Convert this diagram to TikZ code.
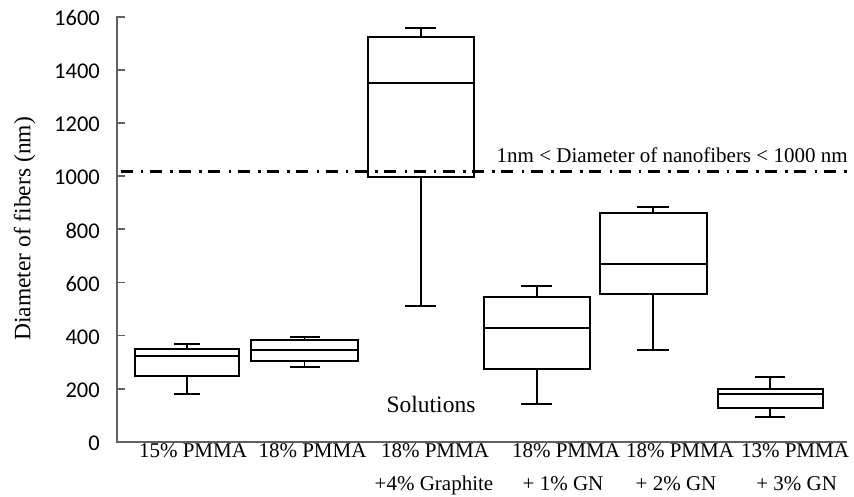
\documentclass[tikz,border=0pt]{standalone}
\usepackage{fontspec}
\setmainfont{Liberation Serif}
\newfontfamily\calib{Carlito}
\begin{document}
\begin{tikzpicture}[x=1pt,y=-1pt,
  boxline/.style={line width=1.9pt, black},
  axisline/.style={line width=1.8pt, black!62},
  refline/.style={line width=3pt, black, dash pattern=on 12pt off 8.3pt on 2.5pt off 6.5pt},
  ticklab/.style={font=\calib\fontsize{22.5}{26}\selectfont, anchor=east, inner sep=0pt},
  catlab/.style={font=\fontsize{21}{24}\selectfont, anchor=base, inner sep=0pt},
  titlelab/.style={font=\fontsize{23.5}{27}\selectfont, inner sep=0pt}]
\useasboundingbox (0,0) rectangle (854,496);
% boxes: left/right/cap top/cap bottom/box top/median/box bottom/cap half width
\foreach \l/\r/\ct/\cb/\bt/\bm/\bb/\hw in {
  135/239.3/343.7/394/349.3/356.3/376.3/13,
  250.7/358.3/336.7/367.3/340/350/360.7/15,
  367.7/474/27.7/306/37.3/83.3/177.3/15.5,
  483.7/590/285.7/404/297.3/328.3/369/15.5,
  599.7/706.7/206.7/350/213.3/264.3/294.3/16,
  718/822.7/376.7/416.7/389.3/394/408.3/15}{
  \pgfmathsetmacro\c{(\l+\r)/2}
  \draw[boxline] (\l,\bt) rectangle (\r,\bb);
  \draw[boxline] (\l,\bm) -- (\r,\bm);
  \draw[boxline] (\c,\bt) -- (\c,\ct);
  \draw[boxline] (\c,\bb) -- (\c,\cb);
  \draw[boxline] (\c-\hw,\ct) -- (\c+\hw,\ct);
  \draw[boxline] (\c-\hw,\cb) -- (\c+\hw,\cb);
}
% axes
\coordinate (ytop) at (117.3,16.9);
\coordinate (orig) at (117.3,441.7);
\coordinate (xend) at (847,441.7);
\draw[axisline] ([xshift=8pt]ytop) -- (ytop) -- (orig) -- (xend);
\foreach \v in {0,200,...,1600}{
  \pgfmathsetmacro\yy{441.7-\v/200*53.1}
  \ifnum\v>0 \draw[axisline] (117.3,\yy) -- (125.3,\yy); \fi
  \node[ticklab] (t\v) at (100,\yy+1.5) {\v};
}
% reference line
\coordinate (rl0) at (120.5,171.3);
\coordinate (rl1) at (848,171.3);
\draw[refline] (rl0) -- (rl1);
\node[font=\fontsize{21}{24}\selectfont, anchor=base west, inner sep=0pt] (ann) at (496.5,162) {1nm < Diameter of nanofibers < 1000 nm};
% titles
\node[titlelab, rotate=90, anchor=base] (ylab) at (30.5,229) {Diameter of fibers (nm)};
\node[titlelab, anchor=base] (sol) at (431,412.3) {Solutions};
% category labels
\node[catlab] (c1) at (193,457.7) {15\% PMMA};
\node[catlab] (c2) at (312.5,457.7) {18\% PMMA};
\node[catlab] (c3) at (435,457.7) {18\% PMMA};
\node[catlab] (c4) at (566,457.7) {18\% PMMA};
\node[catlab] (c5) at (680,457.7) {18\% PMMA};
\node[catlab] (c6) at (795,457.7) {13\% PMMA};
\node[catlab] (d3) at (434,490) {+4\% Graphite};
\node[catlab] (d4) at (563,490) {+ 1\% GN};
\node[catlab] (d5) at (676,490) {+ 2\% GN};
\node[catlab] (d6) at (796.7,490) {+ 3\% GN};
\end{tikzpicture}
\end{document}
